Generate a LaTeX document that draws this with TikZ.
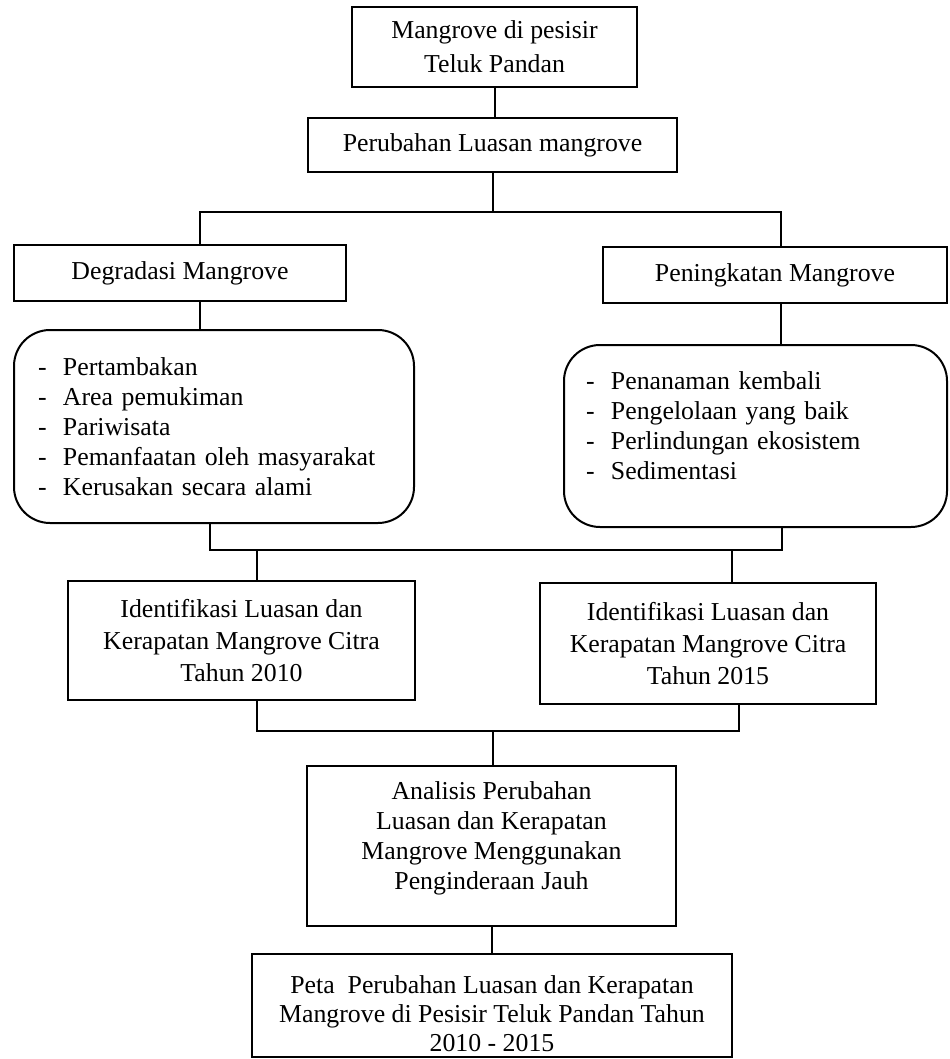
\documentclass[tikz,border=0pt]{standalone}
\usepackage{fontspec}
\setmainfont{Liberation Serif}
\newcommand{\butir}[1]{\makebox[12.5pt][l]{-}#1}

\begin{document}
\begin{tikzpicture}[x=0.5pt, y=-0.5pt, line width=1pt,
    rect/.style={draw, rectangle, align=center, inner sep=2pt, font=\fontsize{12.9}{16}\selectfont},
    rlist/.style={draw, rounded corners=18pt, align=left, font=\fontsize{12.9}{15}\selectfont}]
  \useasboundingbox (0,0) rectangle (949,1059);
  \node[rect, minimum width=142.5pt, minimum height=40pt, font=\fontsize{12.9}{17}\selectfont] (mgv) at (494.5,47) {Mangrove di pesisir\\Teluk Pandan};
  \node[rect, minimum width=184.5pt, minimum height=27pt] (luas) at (492.5,145) {Perubahan Luasan mangrove};
  \node[rect, minimum width=166pt, minimum height=28pt] (deg) at (180,273) {Degradasi Mangrove};
  \node[rect, minimum width=172pt, minimum height=28pt] (ting) at (775,275) {Peningkatan Mangrove};
  \node[rlist, text width=176pt, inner xsep=12pt, minimum height=96.5pt] (degl) at (214,426.5)
    {\butir{Pertambakan}\\ \butir{Area pemukiman}\\ \butir{Pariwisata}\\ \butir{Pemanfaatan oleh masyarakat}\\ \butir{Kerusakan secara alami}};
  \node[rlist, text width=169.5pt, inner xsep=11pt, minimum height=91pt] (tingl) at (755.5,436)
    {\butir{Penanaman kembali}\\ \butir{Pengelolaan yang baik}\\ \butir{Perlindungan ekosistem}\\ \butir{Sedimentasi}\rule[-10pt]{0pt}{10pt}};
  \node[rect, minimum width=173.5pt, minimum height=59.5pt] (id10) at (241.5,640.5) {Identifikasi Luasan dan\\Kerapatan Mangrove Citra\\Tahun 2010};
  \node[rect, minimum width=168pt, minimum height=60.5pt] (id15) at (708,643.5) {Identifikasi Luasan dan\\Kerapatan Mangrove Citra\\Tahun 2015};
  \node[rect, minimum width=184.5pt, minimum height=80pt, font=\fontsize{12.9}{15}\selectfont] (anl) at (491.5,846)
    {Analisis Perubahan\\Luasan dan Kerapatan\\Mangrove Menggunakan\\Penginderaan Jauh\rule[-10.8pt]{0pt}{10.8pt}};
  \node[rect, minimum width=240pt, minimum height=51.5pt, font=\fontsize{12.9}{14.5}\selectfont] (peta) at (492,1005.5)
    {\rule{0pt}{17.3pt}Peta~ Perubahan Luasan dan Kerapatan\\Mangrove di Pesisir Teluk Pandan Tahun\\2010 - 2015};
  % titik cabang
  \coordinate (a1) at (200,212);
  \coordinate (a2) at (781,212);
  \coordinate (b1) at (210,550);
  \coordinate (b2) at (782,550);
  \coordinate (c1) at (257,550);
  \coordinate (c2) at (732,550);
  \coordinate (d1) at (257,731);
  \coordinate (d2) at (739,731);
  \coordinate (d0) at (493,731);
  \draw (mgv.south) -- (mgv.south |- luas.north);
  \draw (luas.south) -- (luas.south |- a1);
  \draw (a1 |- deg.north) -- (a1) -- (a2) -- (a2 |- ting.north);
  \draw (a1 |- deg.south) -- (a1 |- degl.north);
  \draw (a2 |- ting.south) -- (a2 |- tingl.north);
  \draw (b1 |- degl.south) -- (b1) -- (b2) -- (b2 |- tingl.south);
  \draw (c1) -- (c1 |- id10.north);
  \draw (c2) -- (c2 |- id15.north);
  \draw (d1 |- id10.south) -- (d1) -- (d2) -- (d2 |- id15.south);
  \draw (d0) -- (d0 |- anl.north);
  \draw (anl.south) -- (anl.south |- peta.north);
\end{tikzpicture}
\end{document}
